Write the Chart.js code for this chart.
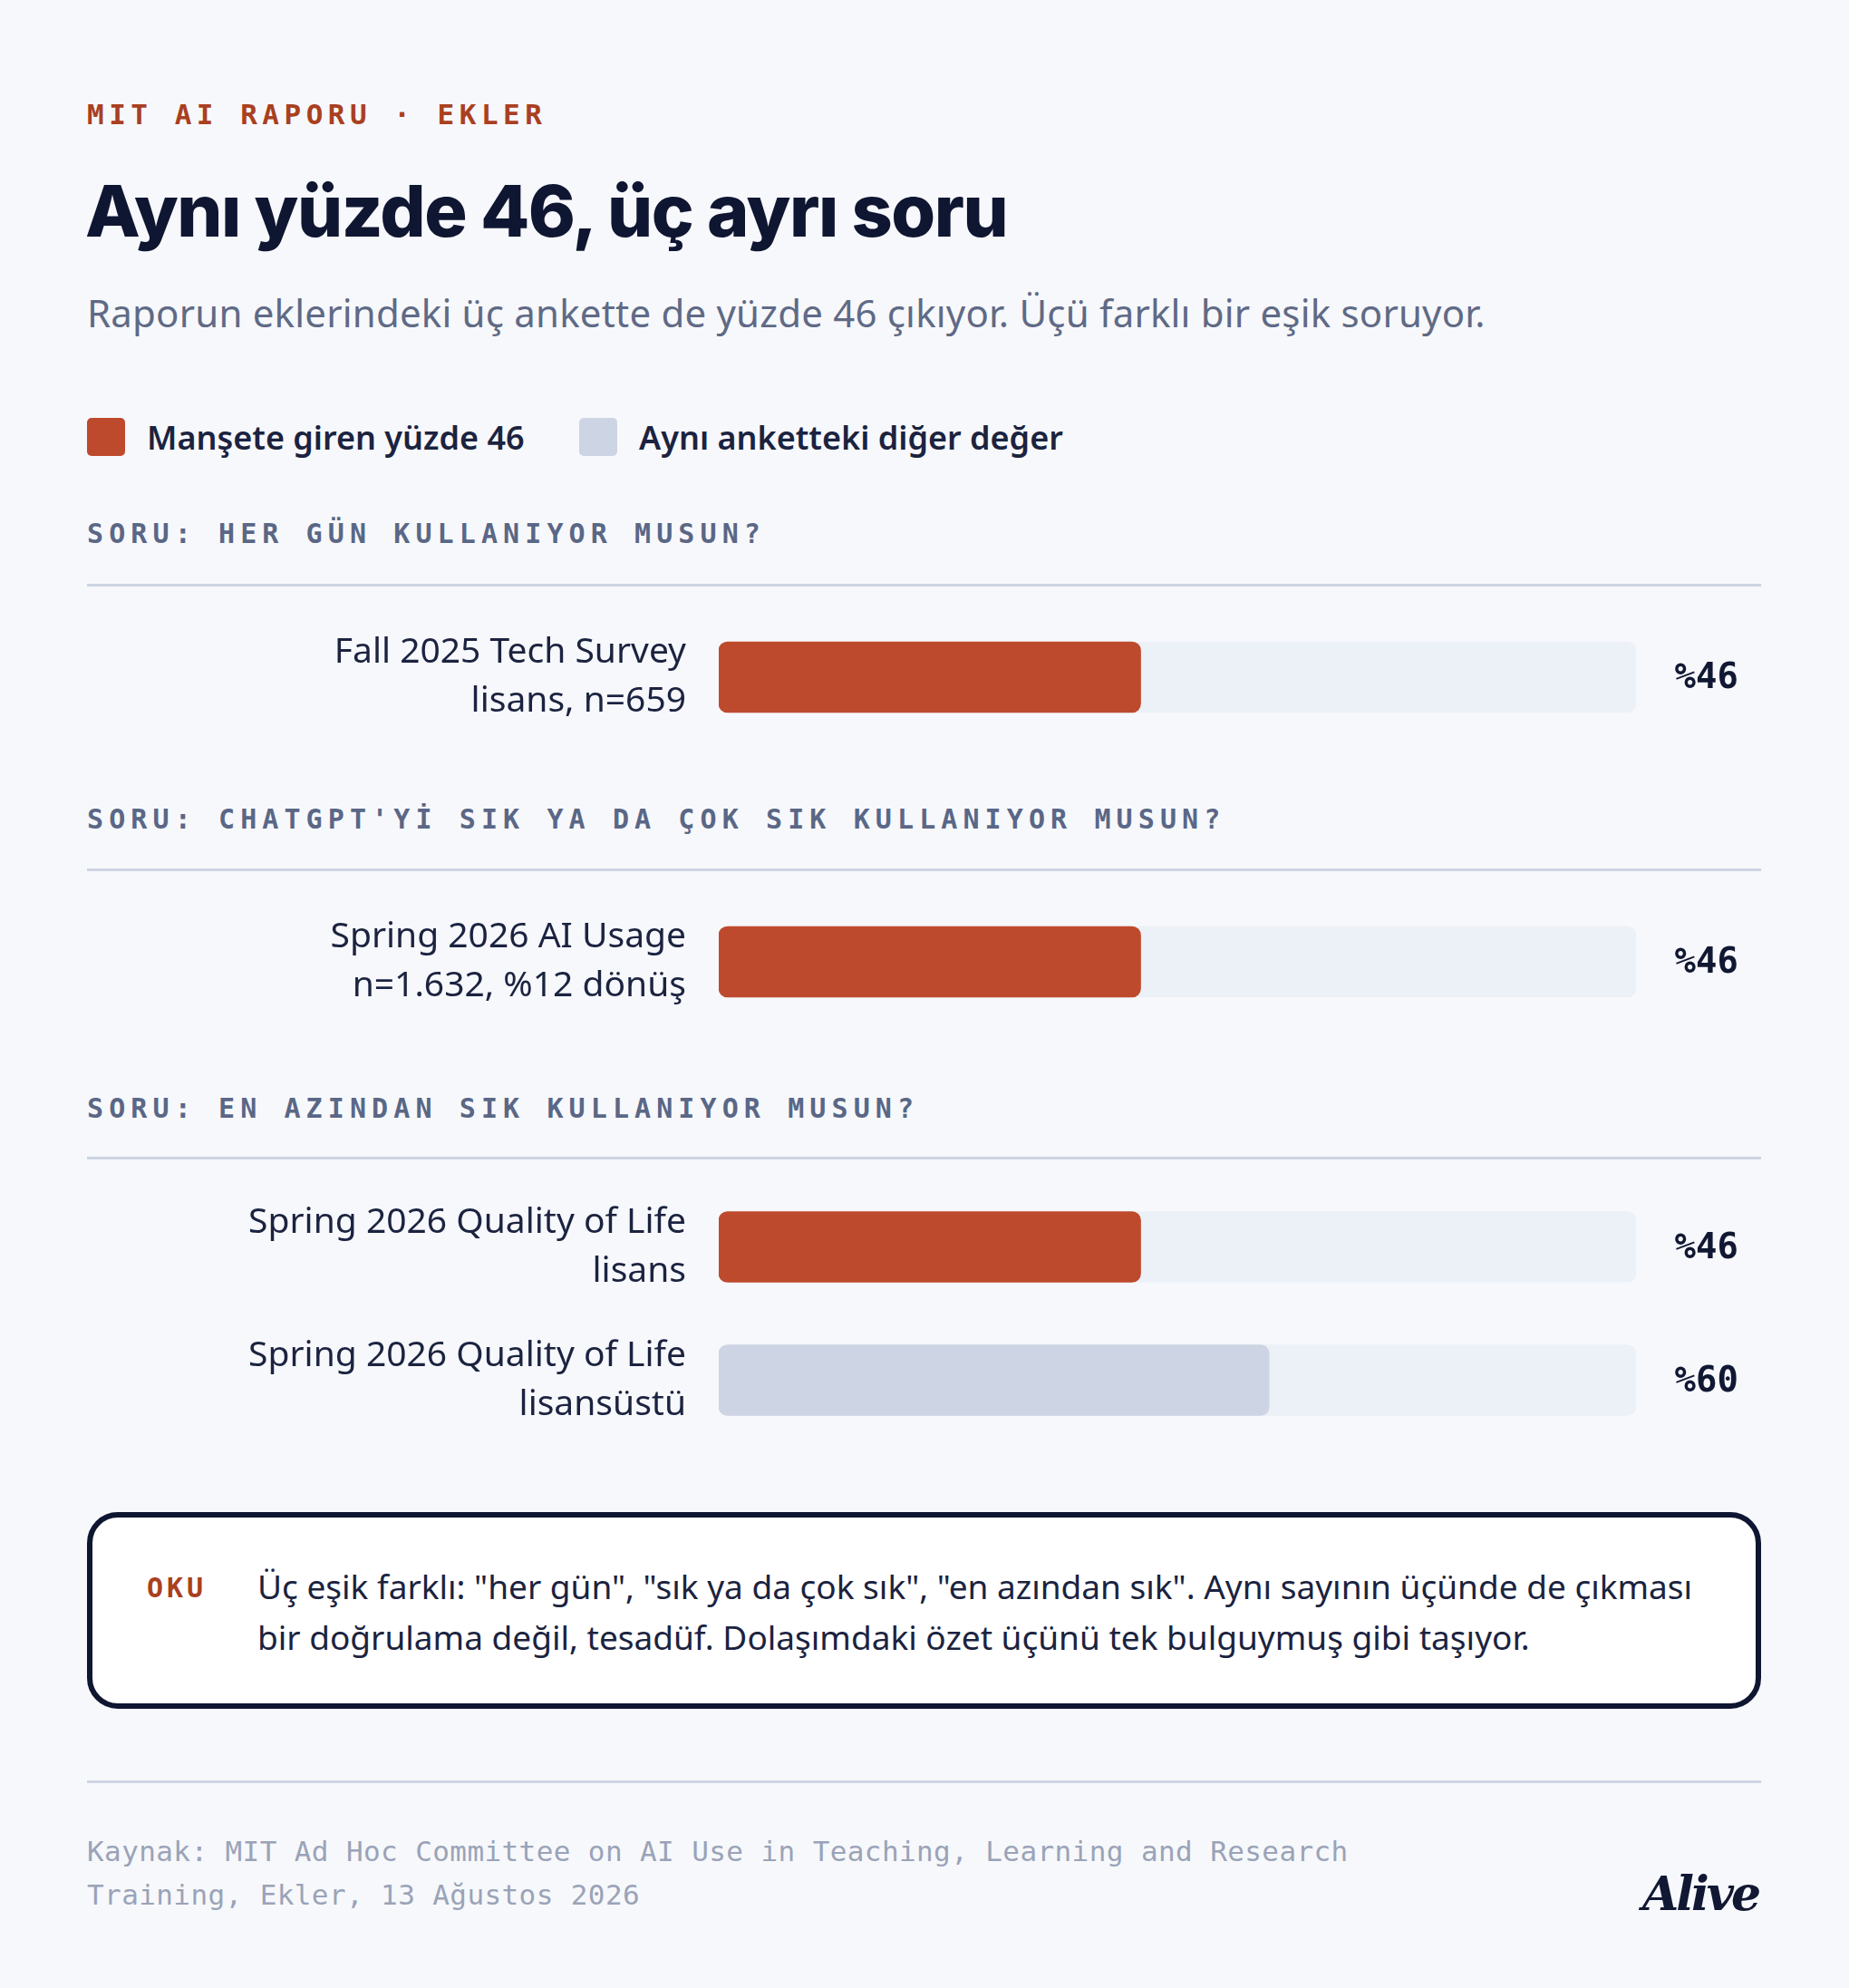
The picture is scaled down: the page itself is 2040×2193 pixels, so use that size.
<!DOCTYPE html>
<html><head><meta charset="utf-8">
<script src="https://cdn.jsdelivr.net/npm/chart.js@4"></script>
<style>
html,body{margin:0;padding:0;background:#F7F8FB;}
body{width:2040px;height:2193px;position:relative;overflow:hidden;font-family:"Noto Sans",sans-serif;color:#111833;}
.a{position:absolute;white-space:nowrap;}
.mono{font-family:"DejaVu Sans Mono","Liberation Mono",monospace;}
.kick{left:96px;top:108px;font-size:31px;font-weight:700;color:#A9401F;letter-spacing:5.5px;}
.title{left:94px;top:184px;font-family:Inter,sans-serif;font-weight:800;font-size:79px;letter-spacing:-1.5px;color:#0F1632;}
.sub{left:96px;top:316px;font-size:42px;color:#5F6A86;letter-spacing:0.2px;}
.leg{top:458px;font-size:36px;font-weight:600;color:#1B2340;}
.sw{top:461px;width:42px;height:42px;border-radius:5px;}
.head{left:96px;font-size:30px;font-weight:700;color:#5A6786;letter-spacing:6.1px;}
.rule{left:96px;width:1847px;height:3px;background:#CDD4E3;}
.wrap{position:absolute;left:96px;width:1847px;}
.box{left:96px;top:1668px;width:1835px;height:205px;border:6px solid #0F1632;border-radius:34px;background:#fff;}
.oku{left:162px;top:1734px;font-size:30px;font-weight:700;color:#A9401F;letter-spacing:4px;}
.boxt{left:284px;top:1722px;font-size:37px;line-height:56px;color:#1B2340;}
.foot{left:96px;top:2018px;font-size:31px;line-height:48px;color:#9AA3B8;letter-spacing:0.4px;}
.logo{left:1812px;top:2058px;font-family:"DejaVu Serif",serif;font-style:italic;font-weight:700;font-size:52px;color:#111833;letter-spacing:-3px;}
</style></head><body>
<div class="a mono kick">MIT AI RAPORU · EKLER</div>
<div class="a title">Aynı yüzde 46, üç ayrı soru</div>
<div class="a sub">Raporun eklerindeki üç ankette de yüzde 46 çıkıyor. Üçü farklı bir eşik soruyor.</div>
<div class="a sw" style="left:96px;background:#BE4A2D"></div>
<div class="a leg" style="left:162px">Manşete giren yüzde 46</div>
<div class="a sw" style="left:639px;background:#CDD4E3"></div>
<div class="a leg" style="left:705px">Aynı anketteki diğer değer</div>

<div class="a mono head" style="top:571px">SORU: HER GÜN KULLANIYOR MUSUN?</div>
<div class="a rule" style="top:644px"></div>
<div class="a mono head" style="top:886px">SORU: CHATGPT'Yİ SIK YA DA ÇOK SIK KULLANIYOR MUSUN?</div>
<div class="a rule" style="top:958px"></div>
<div class="a mono head" style="top:1205px">SORU: EN AZINDAN SIK KULLANIYOR MUSUN?</div>
<div class="a rule" style="top:1276px"></div>

<div class="wrap" style="top:660px;height:174px"><canvas id="c0"></canvas></div>
<div class="wrap" style="top:974px;height:174px"><canvas id="c1"></canvas></div>
<div class="wrap" style="top:1302px;height:294px"><canvas id="c2"></canvas></div>

<div class="a box"></div>
<div class="a mono oku">OKU</div>
<div class="a boxt">Üç eşik farklı: "her gün", "sık ya da çok sık", "en azından sık". Aynı sayının üçünde de çıkması<br>bir doğrulama değil, tesadüf. Dolaşımdaki özet üçünü tek bulguymuş gibi taşıyor.</div>
<div class="a rule" style="top:1964px"></div>
<div class="a mono foot">Kaynak: MIT Ad Hoc Committee on AI Use in Teaching, Learning and Research<br>Training, Ekler, 13 Ağustos 2026</div>
<div class="a logo">Alive</div>

<script>
const surveys = [["Fall 2025 Tech Survey","lisans, n=659"],["Spring 2026 AI Usage","n=1.632, %12 dönüş"],["Spring 2026 Quality of Life","lisans"],["Spring 2026 Quality of Life","lisansüstü"]];
const values = [46,46,46,60];
const headline = [true,true,true,false];
const section = [0,1,2,2];
const valueLabels = ["%46","%46","%46","%60"];

[0,1,2].forEach(s=>{
  const idx=section.map((v,i)=>v===s?i:-1).filter(i=>i>=0);
  const labs=idx.map(i=>valueLabels[i]);
  const cats=idx.map(i=>surveys[i]);
  const txtPlugin = {
    id:'txt',
    afterDatasetsDraw(chart){
      const ctx=chart.ctx, ys=chart.scales.y;
      ctx.save();
      ctx.textBaseline='middle';
      ctx.font='bold 39px "DejaVu Sans Mono", monospace';
      ctx.fillStyle='#111833';ctx.textAlign='right';
      cats.forEach((c,i)=>{
        const y=ys.getPixelForValue(i);
        ctx.fillText(labs[i],1822,y+2);
      });
      ctx.font='39px "Noto Sans", sans-serif';
      ctx.fillStyle='#1B2340';
      cats.forEach((c,i)=>{
        const y=ys.getPixelForValue(i);
        ctx.fillText(c[0],chart.chartArea.left-36,y-27);
        ctx.fillText(c[1],chart.chartArea.left-36,y+27);
      });
      ctx.restore();
    }
  };
  new Chart(document.getElementById('c'+s),{
    type:'bar',
    data:{labels:cats.map(c=>c.join(' ')),
      datasets:[
        {data:idx.map(()=>100),backgroundColor:'#ECF0F7',order:2,grouped:false,barThickness:78,borderRadius:10,borderSkipped:false},
        {data:idx.map(i=>values[i]),backgroundColor:idx.map(i=>headline[i]?'#BE4A2D':'#CDD4E3'),order:1,grouped:false,barThickness:78,borderRadius:10,borderSkipped:false}
      ]},
    options:{indexAxis:'y',responsive:true,maintainAspectRatio:false,animation:false,devicePixelRatio:1,
      layout:{padding:{left:697,right:138,top:0,bottom:0}},
      plugins:{legend:{display:false},tooltip:{enabled:false}},
      scales:{
        x:{display:false,min:0,max:100},
        y:{display:false}
      }},
    plugins:[txtPlugin]
  });
});
</script>
</body></html>
